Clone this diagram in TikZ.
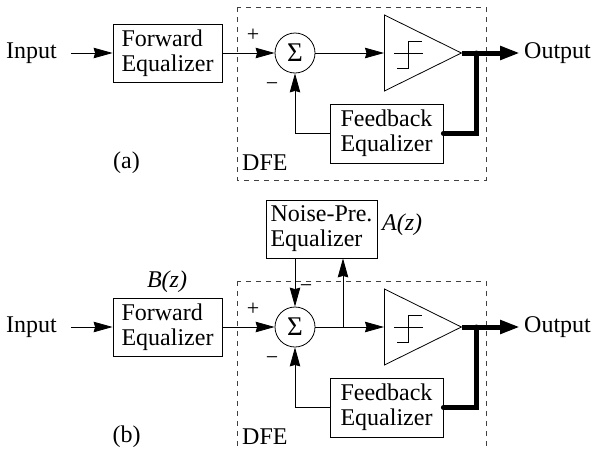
\documentclass[tikz,border=0pt]{standalone}
\usepackage{fontspec}
\setmainfont{Liberation Serif}
\usetikzlibrary{arrows.meta, shapes.geometric, positioning}

\tikzset{
  blk/.style={draw, line width=0.8pt, align=left, inner sep=0pt},
  sumnode/.style={draw, circle, line width=0.8pt, minimum size=40pt, inner sep=0pt},
  slicer/.style={draw, isosceles triangle, isosceles triangle stretches, shape border rotate=0,
    minimum width=76pt, minimum height=77pt, inner sep=0pt, line width=0.8pt},
  sig/.style={line width=0.8pt, -{Stealth[length=19pt,width=10.5pt,inset=1.5pt]}},
  bus/.style={line width=5pt},
  dfe/.style={line width=0.7pt, dash pattern=on 5pt off 5pt, black!75},
  sgn/.style={font=\fontsize{22}{24}\selectfont, inner sep=0pt}
}

\begin{document}
\begin{tikzpicture}[x=1pt, y=-1pt, font=\fontsize{24}{25}\selectfont]
  \clip (0,0) rectangle (593,450);
  \foreach \p/\dy in {a/0, b/274} {
    \draw[dfe] (237,7+\dy) rectangle (486,180+\dy);
    \node[anchor=east, inner xsep=14pt] (in\p) at (71,53+\dy) {Input};
    \node[blk, minimum width=109pt, minimum height=58pt] (fwd\p) at (167.5,53+\dy) {Forward\\Equalizer};
    \node[sumnode] (sum\p) at (295,53+\dy) {\fontsize{27}{27}\selectfont Σ};
    \node[slicer, anchor=lower side] (cmp\p) at (384,53+\dy) {};
    \draw[line width=0.8pt, shift={(cmp\p.lower side)}] (10,0) -- (39,0) (13,15) -- (24,15) -- (24,-12) -- (38,-12);
    \node[blk, minimum width=113pt, minimum height=59pt] (fb\p) at (386.5,133.5+\dy) {Feedback\\Equalizer};
    \node[anchor=west, inner xsep=4pt] (out\p) at (520,53+\dy) {Output};
    \coordinate (tap\p) at (476,53+\dy);
    \node[sgn] (pl\p) at (253,35+\dy) {+};
    \node[sgn] (mn\p) at (272,87+\dy) {−};
    \node[anchor=base west, inner sep=0pt] (lbl\p) at (242,170+\dy) {DFE};
    \node[anchor=base, inner sep=0pt] (tag\p) at (126.5,168+\dy) {(\p)};
    \draw[sig] (in\p) -- (fwd\p);
    \draw[sig] (fwd\p) -- (sum\p);
    \draw[sig] (sum\p) -- (cmp\p.lower side);
    \draw[sig] (fb\p.west) -| (sum\p.south);
    \draw[bus, -{Stealth[length=20pt,width=13pt,inset=0pt]}] (cmp\p.apex) -- (out\p.west);
    \draw[bus, line cap=round, line join=miter] (fb\p.east) -| (tap\p);
  }
  \node[blk, minimum width=111pt, minimum height=58pt] (npe) at (321.5,229) {Noise-Pre.\\Equalizer};
  \node[anchor=base] (bz) at (167,287) {\textit{B(z)}};
  \node[anchor=base west, inner sep=0pt] (az) at (382,230) {\textit{A(z)}};
  \node[sgn] (mnt) at (306,289) {−};
  \coordinate (brn) at (343,327);
  \draw[sig] (brn) -- (brn |- npe.south);
  \draw[sig] (sumb.north |- npe.south) -- (sumb.north);
\end{tikzpicture}
\end{document}
